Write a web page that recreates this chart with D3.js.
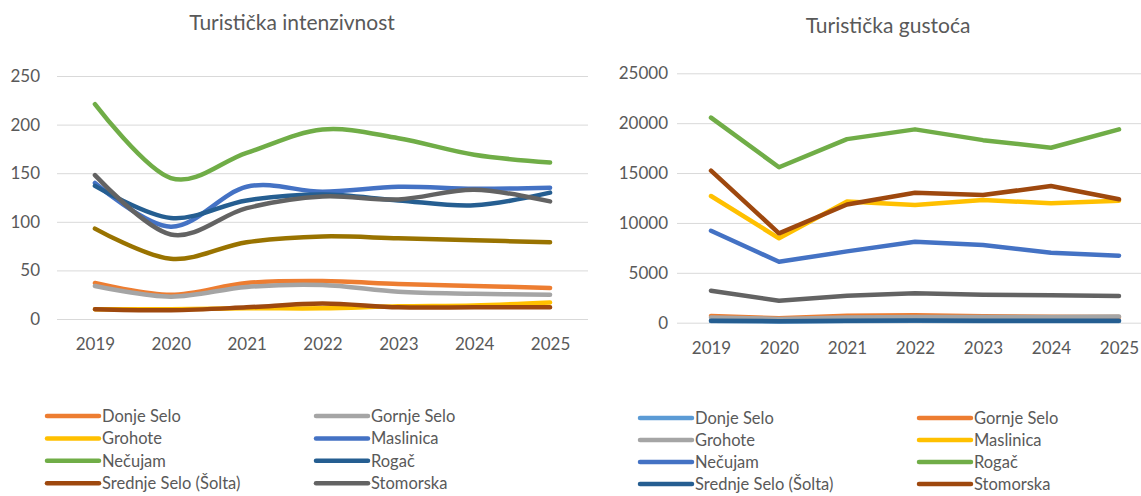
<!DOCTYPE html>
<html>
<head>
<meta charset="utf-8">
<script src="https://cdn.jsdelivr.net/npm/d3@7"></script>
<style>
  body { margin:0; background:#fff; }
  svg text { font-family: Lato, "Open Sans", sans-serif; fill:#595959; }
</style>
</head>
<body>
<div id="chart"></div>
<script>
const years = ["2019","2020","2021","2022","2023","2024","2025"];
const places = ["Donje Selo","Gornje Selo","Grohote","Maslinica","Nečujam","Rogač","Srednje Selo (Šolta)","Stomorska"];

// Turistička intenzivnost (left) - 9th series has no legend entry
const intDonje     = [37, 25, 37, 39, 36, 34, 32];
const intGornje    = [34, 23, 33, 35, 28, 26, 25];
const intGrohote   = [10, 10, 11, 11, 13, 14, 17];
const intMaslinica = [140, 95, 136, 131, 136, 134, 135];
const intNecujam   = [221, 145, 171, 195, 186, 169, 161];
const intRogac     = [137, 104, 122, 128, 122, 117, 130];
const intSrednje   = [10, 9, 12, 16, 12, 12, 12];
const intStomorska = [148, 87, 114, 126, 123, 133, 121];
const intExtra     = [93, 62, 79, 85, 83, 81, 79];
const intTicks = [0, 50, 100, 150, 200, 250];

// Turistička gustoća (right)
const gusDonje     = [180, 130, 170, 200, 180, 170, 170];
const gusGornje    = [680, 450, 700, 750, 650, 600, 580];
const gusGrohote   = [520, 380, 520, 560, 560, 560, 620];
const gusMaslinica = [12700, 8460, 12150, 11800, 12300, 11970, 12230];
const gusNecujam   = [9220, 6110, 7150, 8120, 7790, 7020, 6720];
const gusRogac     = [20550, 15580, 18400, 19380, 18300, 17540, 19380];
const gusSrednje   = [200, 150, 190, 230, 200, 200, 190];
const gusStomorska = [15240, 8960, 11850, 13030, 12800, 13700, 12370];
const gusExtra     = [3210, 2210, 2710, 2950, 2800, 2760, 2680];
const gusTicks = [0, 5000, 10000, 15000, 20000, 25000];

const leftColors  = ["#ED7D31","#A5A5A5","#FFC000","#4472C4","#70AD47","#255E91","#9E480E","#636363","#997300"];
const rightColors = ["#5B9BD5","#ED7D31","#A5A5A5","#FFC000","#4472C4","#70AD47","#255E91","#9E480E","#636363"];

const svg = d3.select("#chart").append("svg").attr("width",1141).attr("height",496);

function drawChart(cfg){
  const g = svg.append("g");
  const x = d3.scalePoint().domain(years).range([cfg.x0, cfg.x1]).padding(0.5);
  const y = d3.scaleLinear().domain([0, cfg.max]).range([cfg.y0, cfg.y1]);

  const ya = g.append("g").attr("transform",`translate(${cfg.x0},0)`)
    .call(d3.axisLeft(y).tickValues(cfg.ticks).tickFormat(d3.format("d"))
      .tickSize(-(cfg.x1-cfg.x0)).tickPadding(cfg.yPad));
  ya.select(".domain").remove();
  ya.selectAll("line").attr("stroke","#d9d9d9");
  ya.selectAll("text").attr("font-size",17);

  const xa = g.append("g").attr("transform",`translate(0,${cfg.y0})`)
    .call(d3.axisBottom(x).tickSize(0).tickPadding(19));
  xa.select(".domain").remove();
  xa.selectAll("text").attr("font-size",17);

  g.append("text").attr("x",cfg.titleX).attr("y",cfg.titleY).attr("text-anchor","middle")
    .attr("font-size",21).text(cfg.title);

  const line = d3.line().x((d,i)=>x(years[i])).y(d=>y(d)).curve(cfg.curve);
  g.append("g").selectAll("path").data(cfg.series).join("path")
    .attr("d", line).attr("fill","none")
    .attr("stroke",(d,i)=>cfg.colors[i]).attr("stroke-width",4.5)
    .attr("stroke-linecap","round").attr("stroke-linejoin","round");

  const lg = g.append("g");
  places.forEach((p,i)=>{
    const col = i%2, row = Math.floor(i/2);
    const lx = cfg.legX[col], ly = cfg.legY + row*cfg.legStep;
    lg.append("line").attr("x1",lx).attr("x2",lx+52).attr("y1",ly).attr("y2",ly)
      .attr("stroke",cfg.colors[i]).attr("stroke-width",4.5).attr("stroke-linecap","round");
    lg.append("text").attr("x",lx+55).attr("y",ly).attr("dy","0.35em")
      .attr("font-size",16.5).text(p);
  });
}

drawChart({
  x0:57, x1:588, y0:319, y1:76, max:250, ticks:intTicks, yPad:17,
  title:"Turistička intenzivnost", titleX:292, titleY:30,
  series:[intDonje,intGornje,intGrohote,intMaslinica,intNecujam,intRogac,intSrednje,intStomorska,intExtra],
  colors:leftColors, curve:d3.curveCardinal.tension(0),
  legX:[47,316], legY:416, legStep:22.4
});

drawChart({
  x0:677, x1:1153, y0:322.7, y1:73.3, max:25000, ticks:gusTicks, yPad:9,
  title:"Turistička gustoća", titleX:888, titleY:33,
  series:[gusDonje,gusGornje,gusGrohote,gusMaslinica,gusNecujam,gusRogac,gusSrednje,gusStomorska,gusExtra],
  colors:rightColors, curve:d3.curveLinear,
  legX:[640,919], legY:418, legStep:22
});
</script>
</body>
</html>
